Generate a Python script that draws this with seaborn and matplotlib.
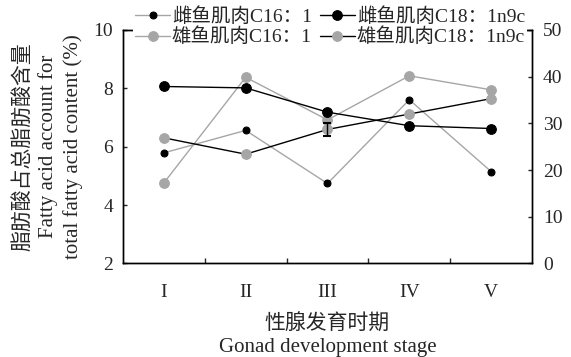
import numpy as np
import pandas as pd
import seaborn as sns
import matplotlib.pyplot as plt
from matplotlib.ticker import FixedLocator

# dados
estagios = ['I', 'II', 'III', 'IV', 'V']
femea_c16 = [5.79, 6.56, 4.74, 7.61, 5.15]      # eixo esquerdo (%)
macho_c16 = [4.76, 8.38, 6.92, 8.43, 7.95]      # eixo esquerdo (%)
femea_c18 = [37.9, 37.6, 32.4, 29.5, 28.9]      # eixo direito (%)
macho_c18 = [26.9, 23.4, 28.7, 32.0, 35.3]      # eixo direito (%)
erro_macho_c18 = [0, 0, 1.3, 0, 0]

sns.set_style('ticks')
plt.rcParams['font.family'] = ['Liberation Serif', 'Noto Sans CJK SC']
plt.rcParams['font.size'] = 14
plt.rcParams['axes.unicode_minus'] = False

df = pd.DataFrame({'pos': np.arange(len(estagios)),
                   'femea_c16': femea_c16, 'macho_c16': macho_c16,
                   'femea_c18': femea_c18, 'macho_c18': macho_c18,
                   'erro': erro_macho_c18})

fig = plt.figure(figsize=(5.71, 3.57), dpi=100)
ax = fig.add_axes([0.2154, 0.262, 0.7163, 0.654])
ax2 = ax.twinx()

cinza = '#a6a6a6'

sns.lineplot(data=df, x='pos', y='femea_c16', ax=ax, color=cinza, lw=1,
             marker='o', markersize=5, markerfacecolor='black',
             markeredgecolor='black', label='雌鱼肌肉C16：1', legend=False)
sns.lineplot(data=df, x='pos', y='macho_c16', ax=ax, color=cinza, lw=1,
             marker='o', markersize=7, markerfacecolor=cinza,
             markeredgecolor=cinza, label='雄鱼肌肉C16：1', legend=False)
sns.lineplot(data=df, x='pos', y='femea_c18', ax=ax2, color='black', lw=1,
             marker='o', markersize=7, markerfacecolor='black',
             markeredgecolor='black', label='雌鱼肌肉C18：1n9c', legend=False)
sns.lineplot(data=df, x='pos', y='macho_c18', ax=ax2, color='black', lw=1,
             marker='o', markersize=7, markerfacecolor=cinza,
             markeredgecolor=cinza, label='雄鱼肌肉C18：1n9c', legend=False)

# barras de erro (só onde existem)
m = df['erro'] > 0
ax2.errorbar(df.loc[m, 'pos'], df.loc[m, 'macho_c18'], yerr=df.loc[m, 'erro'],
             fmt='none', ecolor='black', elinewidth=1, capsize=3, capthick=1.5)

ax.set_xlim(-0.5, 4.5)
ax.set_ylim(2, 10)
ax.set_yticks([2, 4, 6, 8, 10])
ax2.set_ylim(0, 50)
ax2.set_yticks([0, 10, 20, 30, 40, 50])

ax.set_xticks(df['pos'])
ax.set_xticklabels(estagios)
ax.xaxis.set_minor_locator(FixedLocator([0.5, 1.5, 2.5, 3.5]))
ax.tick_params(axis='x', which='major', length=0, pad=15)
ax.tick_params(axis='x', which='minor', direction='in', length=3.5, width=1)
ax.tick_params(axis='y', direction='in', length=3, width=1, pad=7)
ax2.tick_params(axis='y', direction='in', length=3, width=1, pad=8)

for a in (ax, ax2):
    for s in a.spines.values():
        s.set_linewidth(1)
        s.set_color('black')

ax.set_xlabel('性腺发育时期\nGonad development stage', labelpad=10,
              linespacing=1.2, fontsize=15)
ax.set_ylabel('脂肪酸占总脂肪酸含量\nFatty acid account for\ntotal fatty acid content (%)',
              labelpad=8, linespacing=1.3, fontsize=15)
ax2.set_ylabel('')

h1, l1 = ax.get_legend_handles_labels()
h2, l2 = ax2.get_legend_handles_labels()
# ordem por coluna: col 1 = C16 (fêmea, macho), col 2 = C18 (fêmea, macho)
handles = [h1[0], h1[1], h2[0], h2[1]]
labels = [l1[0], l1[1], l2[0], l2[1]]
leg = ax2.legend(handles, labels, ncol=2, loc='center',
                 bbox_to_anchor=(0.578, 0.925), bbox_transform=fig.transFigure,
                 frameon=True, facecolor='white', edgecolor='none', framealpha=1,
                 fancybox=False, handlelength=1.8, handletextpad=0.1,
                 columnspacing=0.4, labelspacing=0.1, borderpad=0.1,
                 borderaxespad=0, fontsize=14)
leg.set_zorder(10)

fig.savefig('out.png', dpi=100)
